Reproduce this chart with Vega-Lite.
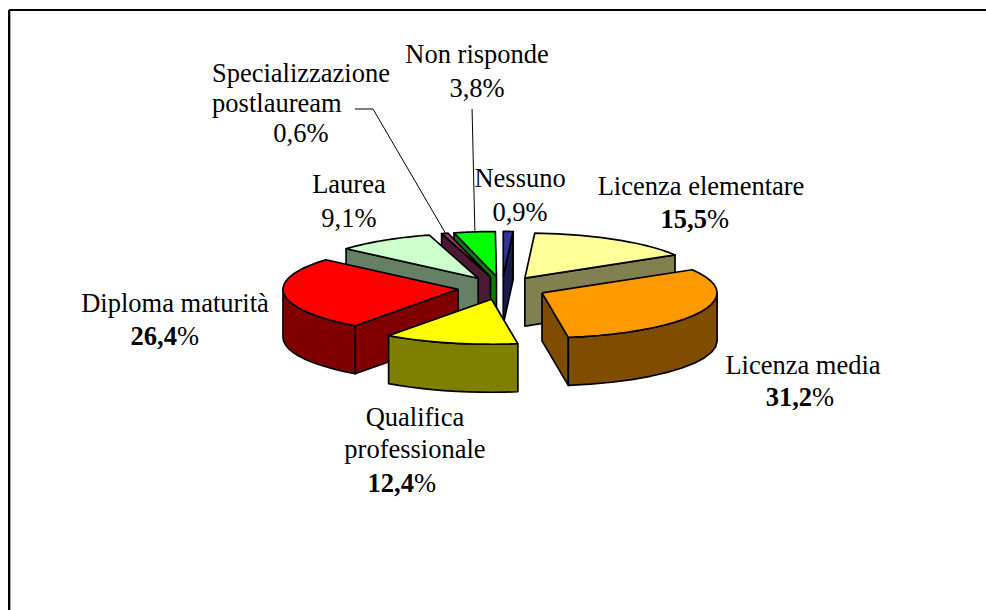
{"$schema":"https://vega.github.io/schema/vega-lite/v6.json","width":986,"height":610,"padding":0,"autosize":{"type":"none"},"background":"white","config":{"view":{"stroke":null}},
"data":{"values":[
{"slice":"Nessuno","ord":1,"pct":0.9},
{"slice":"Non risponde","ord":8,"pct":3.8},
{"slice":"Specializzazione postlauream","ord":7,"pct":0.6},
{"slice":"Laurea","ord":6,"pct":9.1},
{"slice":"Licenza elementare","ord":2,"pct":15.5},
{"slice":"Diploma maturità","ord":5,"pct":26.4},
{"slice":"Licenza media","ord":3,"pct":31.2},
{"slice":"Qualifica professionale","ord":4,"pct":12.4}]},
"transform":[
{"stack":"pct","sort":[{"field":"ord","order":"ascending"}],"as":["p0","p1"]},
{"calculate":"datum.p0*3.6","as":"t0"},{"calculate":"datum.p1*3.6","as":"t1"},
{"calculate":"(datum.t0+datum.t1)/2*PI/180","as":"mid"},
{"calculate":"0.257*sin(datum.mid)","as":"cx"},{"calculate":"0.257*cos(datum.mid)","as":"cy"}],
"layer":[
{"mark":{"type":"rule","color":"black","strokeWidth":2},"encoding":{"x":{"datum":-2.866,"type":"quantitative","scale":{"domain":[-2.9186,2.814]},"axis":null},"x2":{"datum":2.814},"y":{"datum":6.178,"type":"quantitative","scale":{"domain":[-7.1556,6.4]},"axis":null}}},
{"mark":{"type":"rule","color":"black","strokeWidth":2},"encoding":{"x":{"datum":-2.866,"type":"quantitative","scale":{"domain":[-2.9186,2.814]},"axis":null},"y":{"datum":6.178,"type":"quantitative","scale":{"domain":[-7.1556,6.4]},"axis":null},"y2":{"datum":-7.1556}}},
{"transform":[
{"calculate":"['side','wall','top']","as":"part"},{"flatten":["part"]},
{"filter":"datum.part=='top'||(datum.part=='side'&&(datum.t1<180||datum.t0>=180))||(datum.part=='wall'&&datum.t1>90&&datum.t0<270)"},
{"calculate":"[0,1,2,3,4,5,6,7,8,9,10,11,12,13,14,15,16,17,18,19,20,21,22,23,24]","as":"s"},{"flatten":["s"]},
{"filter":"datum.part!='side'||datum.s<=4"},
{"calculate":"max(datum.t0,90)","as":"w0"},{"calculate":"min(datum.t1,270)","as":"w1"},
{"calculate":"datum.part=='top'?datum.t0+(datum.t1-datum.t0)*(datum.s-1)/22:datum.part=='side'?(datum.t1<180?datum.t1:datum.t0):datum.s<=11?datum.w0+(datum.w1-datum.w0)*datum.s/11:datum.s<=23?datum.w1-(datum.w1-datum.w0)*(datum.s-12)/11:datum.w0","as":"deg"},
{"calculate":"datum.part=='top'?((datum.s==0||datum.s==24)?0:1):datum.part=='side'?((datum.s==1||datum.s==2)?1:0):1","as":"r"},
{"calculate":"datum.part=='top'?0:datum.part=='side'?((datum.s==2||datum.s==3)?-1.067:0):((datum.s>=12&&datum.s<=23)?-1.067:0)","as":"z"},
{"calculate":"datum.cx+datum.r*1.018*sin(datum.deg*PI/180)","as":"px"},
{"calculate":"datum.cy+datum.r*cos(datum.deg*PI/180)+datum.z","as":"py"},
{"calculate":"datum.slice+(datum.part=='top'?' top':' wall')","as":"shade"},
{"calculate":"datum.slice+' '+datum.part","as":"piece"}],
"mark":{"type":"line","filled":true,"stroke":"black","strokeWidth":1.7,"strokeJoin":"round"},
"encoding":{"x":{"field":"px","type":"quantitative","scale":{"domain":[-2.9186,2.814]},"axis":null},"y":{"field":"py","type":"quantitative","scale":{"domain":[-7.1556,6.4]},"axis":null},"detail":{"field":"piece"},"order":{"field":"s","type":"quantitative"},
"fill":{"field":"shade","type":"nominal","legend":null,"scale":{"domain":["Nessuno top","Nessuno wall","Non risponde top","Non risponde wall","Specializzazione postlauream top","Specializzazione postlauream wall","Laurea top","Laurea wall","Licenza elementare top","Licenza elementare wall","Diploma maturità top","Diploma maturità wall","Licenza media top","Licenza media wall","Qualifica professionale top","Qualifica professionale wall"],"range":["#333399","#1A1A4D","#00FF00","#008000","#993366","#4D1A33","#CCFFCC","#668066","#FFFF99","#808050","#FF0000","#800000","#FF9900","#804D00","#FFFF00","#808000"]}}}},
{"transform":[{"filter":"datum.slice=='Non risponde'||datum.slice=='Specializzazione postlauream'"},
{"calculate":"[0,1,2]","as":"s"},{"flatten":["s"]},
{"calculate":"datum.slice=='Non risponde'?-0.174:-0.855","as":"ax"},{"calculate":"datum.slice=='Non risponde'?-0.174:-0.75","as":"bx"},
{"calculate":"datum.s==0?datum.ax:datum.s==1?datum.bx:datum.cx+sin(datum.mid)","as":"px"},
{"calculate":"datum.s==2?datum.cy+cos(datum.mid):3.978","as":"py"}],
"mark":{"type":"line","stroke":"black","strokeWidth":1},
"encoding":{"x":{"field":"px","type":"quantitative","scale":{"domain":[-2.9186,2.814]},"axis":null},"y":{"field":"py","type":"quantitative","scale":{"domain":[-7.1556,6.4]},"axis":null},"detail":{"field":"slice"},"order":{"field":"s","type":"quantitative"}}},
{"transform":[
{"calculate":"{'Nessuno':0.105,'Non risponde':-0.145,'Specializzazione postlauream':-1.169,'Laurea':-0.89,'Licenza elementare':1.157,'Licenza media':1.75,'Qualifica professionale':-0.506,'Diploma maturità':-1.901}[datum.slice]","as":"lx"},
{"calculate":"{'Nessuno':2.244,'Non risponde':5,'Specializzazione postlauream':4.578,'Laurea':2.111,'Licenza elementare':2.067,'Licenza media':-1.911,'Qualifica professionale':-3.067,'Diploma maturità':-0.533}[datum.slice]","as":"ly"},
{"calculate":"(datum.slice=='Specializzazione postlauream'||datum.slice=='Qualifica professionale')?split(datum.slice,' '):[datum.slice]","as":"line"},
{"flatten":["line"]},
{"calculate":"(datum.slice=='Specializzazione postlauream'||datum.slice=='Qualifica professionale')&&datum.line==split(datum.slice,' ')[1]?1:0","as":"n"},
{"calculate":"datum.slice=='Specializzazione postlauream'?0.667:0.72","as":"pitch"},
{"calculate":"datum.lx-(datum.line=='postlauream'?0.14:0)","as":"tx"},
{"calculate":"datum.ly-datum.n*datum.pitch","as":"ty"}],
"mark":{"type":"text","font":"Liberation Serif","fontSize":26.5,"align":"center","baseline":"alphabetic","color":"black"},
"encoding":{"x":{"field":"tx","type":"quantitative","scale":{"domain":[-2.9186,2.814]},"axis":null},"y":{"field":"ty","type":"quantitative","scale":{"domain":[-7.1556,6.4]},"axis":null},"text":{"field":"line"}}},
{"transform":[
{"calculate":"{'Nessuno':0.105,'Non risponde':-0.145,'Specializzazione postlauream':-1.169,'Laurea':-0.89}[datum.slice]","as":"lx"},
{"calculate":"{'Nessuno':1.49,'Non risponde':4.244,'Specializzazione postlauream':3.244,'Laurea':1.356}[datum.slice]","as":"ly"},
{"filter":"datum.pct<10"},
{"calculate":"replace(format(datum.pct,'.1f'),'.',',')+'%'","as":"txt"}],
"mark":{"type":"text","font":"Liberation Serif","fontSize":26.5,"align":"center","baseline":"alphabetic","color":"black"},
"encoding":{"x":{"field":"lx","type":"quantitative","scale":{"domain":[-2.9186,2.814]},"axis":null},"y":{"field":"ly","type":"quantitative","scale":{"domain":[-7.1556,6.4]},"axis":null},"text":{"field":"txt"}}},
{"transform":[{"filter":"datum.pct>=10"},
{"calculate":"{'Licenza elementare':1.122,'Licenza media':1.733,'Qualifica professionale':-0.582,'Diploma maturità':-1.96}[datum.slice]","as":"lx"},
{"calculate":"{'Licenza elementare':1.333,'Licenza media':-2.622,'Qualifica professionale':-4.533,'Diploma maturità':-1.267}[datum.slice]","as":"ly"},
{"calculate":"replace(format(datum.pct,'.1f'),'.',',')","as":"txt"}],
"mark":{"type":"text","font":"Liberation Serif","fontSize":26.5,"fontWeight":"bold","align":"right","dx":12,"baseline":"alphabetic","color":"black"},
"encoding":{"x":{"field":"lx","type":"quantitative","scale":{"domain":[-2.9186,2.814]},"axis":null},"y":{"field":"ly","type":"quantitative","scale":{"domain":[-7.1556,6.4]},"axis":null},"text":{"field":"txt"}}},
{"transform":[{"filter":"datum.pct>=10"},
{"calculate":"{'Licenza elementare':1.122,'Licenza media':1.733,'Qualifica professionale':-0.582,'Diploma maturità':-1.96}[datum.slice]","as":"lx"},
{"calculate":"{'Licenza elementare':1.333,'Licenza media':-2.622,'Qualifica professionale':-4.533,'Diploma maturità':-1.267}[datum.slice]","as":"ly"},
{"calculate":"'%'","as":"txt"}],
"mark":{"type":"text","font":"Liberation Serif","fontSize":26.5,"align":"left","dx":12,"baseline":"alphabetic","color":"black"},
"encoding":{"x":{"field":"lx","type":"quantitative","scale":{"domain":[-2.9186,2.814]},"axis":null},"y":{"field":"ly","type":"quantitative","scale":{"domain":[-7.1556,6.4]},"axis":null},"text":{"field":"txt"}}}
]}
